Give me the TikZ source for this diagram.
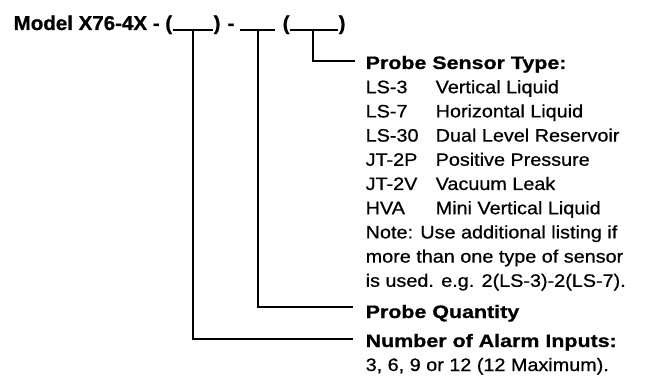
\documentclass[tikz,border=0pt]{standalone}
\usepackage{fontspec}
\setmainfont{Liberation Sans}[FakeStretch=1.1, FakeBold=0.7]
\newfontfamily\headfont{Liberation Sans}[FakeStretch=1.19, FakeBold=0.8]
\newfontfamily\titlefont{Liberation Sans}[FakeStretch=1.026, FakeBold=0.8]

\begin{document}
\begin{tikzpicture}[x=1pt, y=-1pt, line width=1.4pt,
    every node/.style={inner sep=0pt, anchor=base west},
    title/.style={font=\titlefont\bfseries\fontsize{20}{24}\selectfont},
    head/.style={font=\headfont\bfseries\fontsize{18}{24}\selectfont},
    item/.style={font=\fontsize{18}{24}\selectfont}]
    \useasboundingbox (0,0) rectangle (659,382);

    % model number line
    \node[title] (model) at (13,30) {Model X76-4X - (};
    \node[title] (rpa) at (213,30) {)};
    \node[title] (dash) at (227,30) {-};
    \node[title] (lpc) at (282,30) {(};
    \node[title] (rpc) at (338,30) {)};
    \draw (model.base east) -- (rpa.base west);
    \draw (240,30) -- (275,30);
    \draw (lpc.base east) -- (rpc.base west);
    \coordinate (ua) at (193,30);
    \coordinate (ub) at (258,30);
    \coordinate (uc) at (313,30);

    % sensor type
    \node[head] (sensor) at (365,69) {Probe Sensor Type:};
    \foreach \code/\desc [count=\i] in {LS-3/Vertical Liquid, LS-7/Horizontal Liquid,
        LS-30/Dual Level Reservoir, JT-2P/Positive Pressure, JT-2V/Vacuum Leak,
        HVA/Mini Vertical Liquid} {
        \node[item] (code\i) at (365,69+24.2*\i) {\code};
        \node[item] (desc\i) at (435,69+24.2*\i) {\desc};
    }
    \node[item] (note1) at (365,238.4) {Note: Use additional listing if};
    \node[item] (note2) at (365,262.6) {more than one type of sensor};
    \node[item] (note3) at (365,286.8) {is used. e.g. 2(LS-3)-2(LS-7).};

    % quantity and inputs
    \node[head] (qty) at (365,318) {Probe Quantity};
    \node[head] (inputs) at (365,347) {Number of Alarm Inputs:};
    \node[item] (counts) at (365,371) {3, 6, 9 or 12 (12 Maximum).};

    \draw (uc) |- ([xshift=-10pt,yshift=8pt]sensor.base west);
    \draw (ub) |- ([xshift=-12pt,yshift=11pt]qty.base west);
    \draw (ua) |- ([xshift=-12pt,yshift=8pt]inputs.base west);
\end{tikzpicture}
\end{document}
